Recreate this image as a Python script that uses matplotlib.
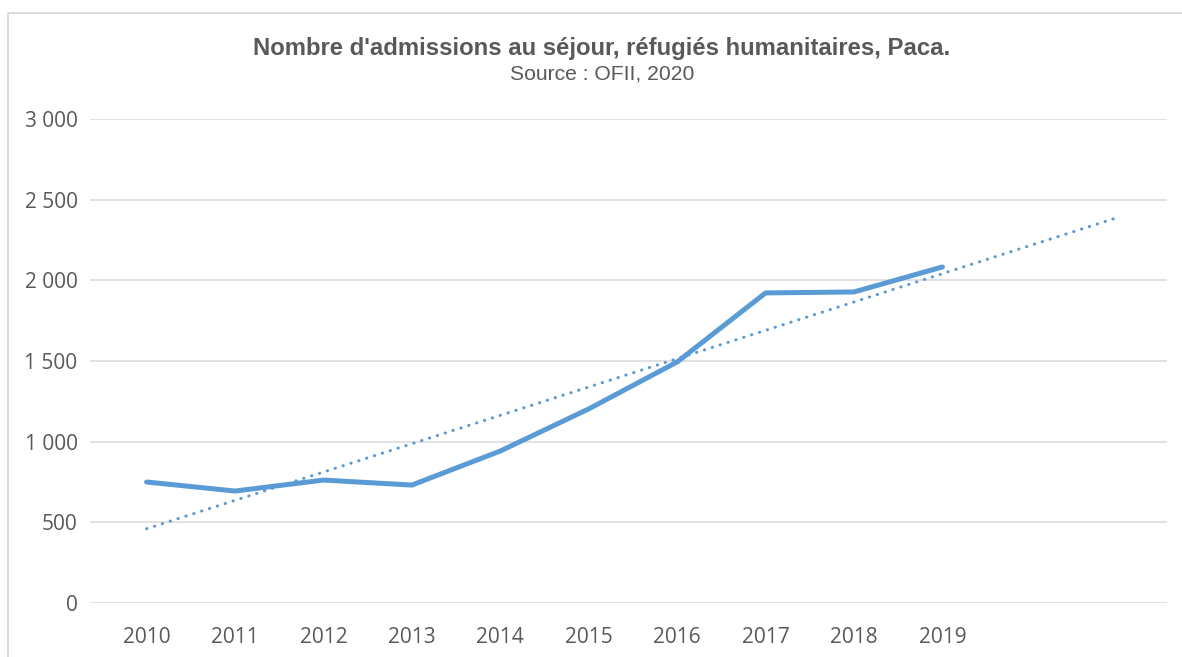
import numpy as np
import matplotlib.pyplot as plt
from matplotlib.patches import Rectangle

# Admissions au séjour, réfugiés humanitaires, Paca (OFII)
years = ['2010', '2011', '2012', '2013', '2014', '2015', '2016', '2017', '2018', '2019']
admissions = [750, 694, 762, 731, 942, 1203, 1494, 1922, 1928, 2083]
y_ticks = [0, 500, 1000, 1500, 2000, 2500, 3000]
y_labels = ['0', '500', '1 000', '1 500', '2 000', '2 500', '3 000']

blue = '#5B9BD5'
grey = '#595959'

fig = plt.figure(figsize=(11.82, 6.57), dpi=100)
ax = fig.add_axes([90 / 1182, 1 - 603 / 657, 1077 / 1182, 484 / 657])

x = np.arange(len(years))
ax.plot(x, admissions, color=blue, lw=3.6, solid_capstyle='round', zorder=3)

# linear trendline, forward forecast of 2 periods (like Excel)
slope, intercept = np.polyfit(x, admissions, 1)
xt = np.array([0, len(years) + 1])
ax.plot(xt, slope * xt + intercept, color=blue, lw=2.2, ls=(0, (0.1, 2.6)),
        dash_capstyle='round', zorder=2)

ax.set_xlim(-0.64, 11.54)
ax.set_ylim(0, 3000)
ax.set_xticks(x)
ax.set_xticklabels(years)
ax.set_yticks(y_ticks)
ax.set_yticklabels(y_labels)
ax.tick_params(length=0, labelsize=15, labelcolor=grey)
ax.tick_params(axis='y', pad=9)
ax.tick_params(axis='x', pad=17)
for lab in ax.get_xticklabels() + ax.get_yticklabels():
    lab.set_family('Open Sans')
ax.grid(axis='y', color='#D9D9D9', lw=1.1)
ax.set_axisbelow(True)
for s in ax.spines.values():
    s.set_visible(False)

fig.text(602 / 1182, 1 - 49 / 657, "Nombre d'admissions au séjour, réfugiés humanitaires, Paca.",
         ha='center', va='center', fontsize=17.2, fontweight='bold', color=grey,
         family='Liberation Sans')
fig.text(602 / 1182, 1 - 74 / 657, 'Source : OFII, 2020', ha='center', va='center',
         fontsize=15.2, color=grey, family='Liberation Sans')

# outer chart frame
fig.patches.append(Rectangle((8 / 1182, -0.05), 1.1, 1 - 13 / 657 + 0.05,
                             transform=fig.transFigure, fill=False,
                             edgecolor='#D9D9D9', lw=1.3))

fig.savefig('out.png', dpi=100)
